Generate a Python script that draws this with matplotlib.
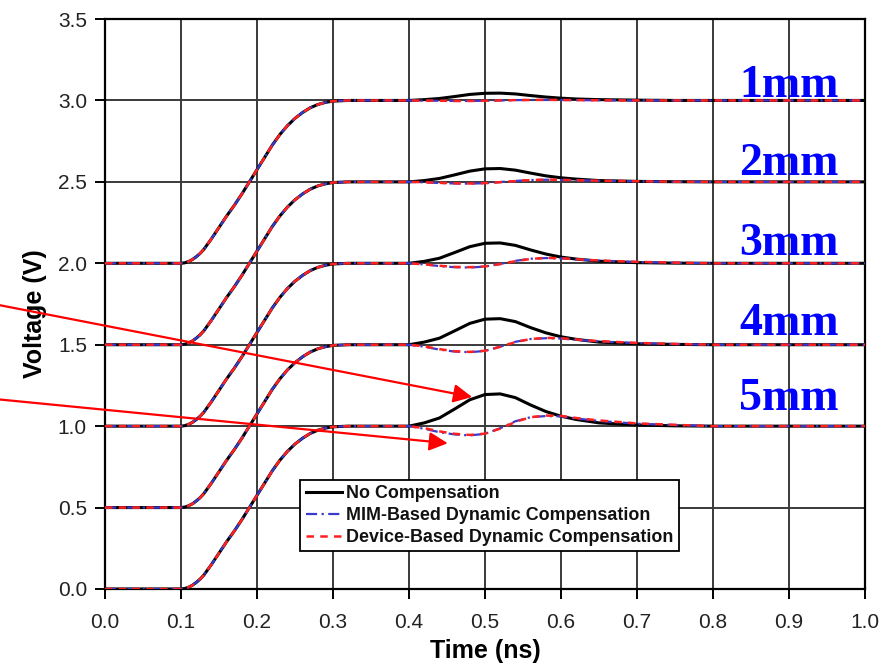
import numpy as np
import matplotlib
matplotlib.use("Agg")
import matplotlib.pyplot as plt

plt.rcParams['font.family'] = ['Liberation Sans', 'DejaVu Sans']

# ---- data ----
lengths = ["1mm", "2mm", "3mm", "4mm", "5mm"]
offsets = [2.0, 1.5, 1.0, 0.5, 0.0]          # starting voltage of each trace
label_y = [3.02, 2.54, 2.05, 1.56, 1.10]

# shared rising edge (fraction of 1 V swing)
t_rise = [0.0, 0.10, 0.105, 0.11, 0.115, 0.12, 0.125, 0.13, 0.14, 0.15, 0.16, 0.17, 0.18,
          0.19, 0.20, 0.21, 0.22, 0.23, 0.24, 0.25, 0.26, 0.27, 0.28, 0.29, 0.30, 0.32, 0.36]
v_rise = [0.0, 0.0, 0.003, 0.011, 0.023, 0.04, 0.06, 0.085, 0.15, 0.22, 0.29, 0.355, 0.425,
          0.5, 0.575, 0.65, 0.725, 0.79, 0.845, 0.89, 0.926, 0.955, 0.975, 0.988, 0.996, 1.0, 1.0]

# deviation from the 1 V plateau around the aggressor transition
t_bump = [0.40, 0.42, 0.44, 0.46, 0.48, 0.50, 0.52, 0.54, 0.56, 0.58, 0.60, 0.62,
          0.65, 0.70, 0.75, 0.80, 1.0]

no_comp = {
    "1mm": [0, 0.005, 0.012, 0.024, 0.037, 0.044, 0.045, 0.040, 0.030, 0.021, 0.014, 0.009, 0.005, 0.002, 0, 0, 0],
    "2mm": [0, 0.008, 0.021, 0.043, 0.066, 0.080, 0.082, 0.072, 0.054, 0.037, 0.025, 0.017, 0.008, 0.003, 0.001, 0, 0],
    "3mm": [0, 0.012, 0.031, 0.066, 0.102, 0.123, 0.125, 0.110, 0.082, 0.057, 0.038, 0.026, 0.013, 0.004, 0.001, 0, 0],
    "4mm": [0, 0.016, 0.040, 0.085, 0.131, 0.157, 0.160, 0.142, 0.105, 0.073, 0.049, 0.033, 0.016, 0.006, 0.002, 0, 0],
    "5mm": [0, 0.020, 0.050, 0.105, 0.162, 0.194, 0.198, 0.175, 0.130, 0.090, 0.061, 0.041, 0.020, 0.007, 0.002, 0, 0],
}
mim_comp = {
    "1mm": [0, -0.001, -0.002, -0.003, -0.003, -0.002, 0, 0.002, 0.003, 0.003, 0.003, 0.002, 0.001, 0, 0, 0, 0],
    "2mm": [0, -0.003, -0.007, -0.010, -0.011, -0.008, -0.001, 0.006, 0.011, 0.013, 0.012, 0.010, 0.007, 0.003, 0.001, 0, 0],
    "3mm": [0, -0.007, -0.017, -0.024, -0.026, -0.020, -0.004, 0.015, 0.028, 0.032, 0.030, 0.024, 0.016, 0.008, 0.003, 0, 0],
    "4mm": [0, -0.012, -0.030, -0.042, -0.046, -0.038, -0.012, 0.018, 0.035, 0.040, 0.038, 0.030, 0.020, 0.010, 0.004, 0, 0],
    "5mm": [0, -0.016, -0.037, -0.051, -0.057, -0.047, -0.013, 0.030, 0.055, 0.062, 0.060, 0.047, 0.032, 0.015, 0.007, 0, 0],
}
dev_comp = {
    "1mm": [0, -0.001, -0.002, -0.003, -0.003, -0.002, 0, 0.002, 0.003, 0.004, 0.003, 0.002, 0.001, 0, 0, 0, 0],
    "2mm": [0, -0.002, -0.006, -0.009, -0.010, -0.008, -0.002, 0.005, 0.011, 0.014, 0.013, 0.010, 0.007, 0.004, 0.001, 0, 0],
    "3mm": [0, -0.006, -0.015, -0.022, -0.024, -0.019, -0.005, 0.013, 0.027, 0.033, 0.031, 0.025, 0.017, 0.009, 0.004, 0, 0],
    "4mm": [0, -0.010, -0.027, -0.040, -0.044, -0.037, -0.013, 0.016, 0.035, 0.042, 0.040, 0.032, 0.022, 0.011, 0.005, 0, 0],
    "5mm": [0, -0.012, -0.032, -0.047, -0.054, -0.046, -0.015, 0.026, 0.055, 0.065, 0.063, 0.050, 0.035, 0.017, 0.008, 0, 0],
}

x_ticks = [0.0, 0.1, 0.2, 0.3, 0.4, 0.5, 0.6, 0.7, 0.8, 0.9, 1.0]
y_ticks = [0.0, 0.5, 1.0, 1.5, 2.0, 2.5, 3.0, 3.5]

# ---- figure ----
fig = plt.figure(figsize=(8.95, 6.7), dpi=100)
ax = fig.add_axes([0.1173, 0.1209, 0.8492, 0.8507])

t_all = np.array(t_rise + t_bump)

series = [
    (no_comp, dict(color='black', lw=2.2, ls='-'), "No Compensation"),
    (mim_comp, dict(color='#3a3acc', lw=1.6, ls=(0, (5, 2, 1, 2))), "MIM-Based Dynamic Compensation"),
    (dev_comp, dict(color='#ff2020', lw=1.8, ls=(0, (3, 2.5))), "Device-Based Dynamic Compensation"),
]
handles = []
for data, style, name in series:
    for i, L in enumerate(lengths):
        y = offsets[i] + np.array(v_rise + [1.0 + d for d in data[L]])
        ln, = ax.plot(t_all, y, zorder=3, **style)
    handles.append((ln, name))

ax.set_xlim(0, 1.0)
ax.set_ylim(0, 3.5)
ax.set_xticks(x_ticks)
ax.set_yticks(y_ticks)
ax.set_xticklabels([f"{v:.1f}" for v in x_ticks])
ax.set_yticklabels([f"{v:.1f}" for v in y_ticks])
ax.grid(True, color='#3a3a3a', lw=1.4, zorder=1)
ax.set_axisbelow(True)
for s in ax.spines.values():
    s.set_linewidth(1.6)
    s.set_color('black')
ax.tick_params(axis='both', direction='out', length=7, width=1.4, labelsize=15,
               colors='black', labelcolor='#222222')
ax.tick_params(axis='y', pad=6)
ax.tick_params(axis='x', pad=10)

ax.set_xlabel("Time (ns)", fontsize=18, fontweight='bold', labelpad=5)
ax.set_ylabel("Voltage (V)", fontsize=18, fontweight='bold', labelpad=8, y=0.483)

for L, yy in zip(lengths, label_y):
    ax.text(0.9, yy, L, color='#0000ff', fontsize=33, fontweight='bold',
            family=['Liberation Serif', 'DejaVu Serif'], ha='center', va='baseline', zorder=5)

leg = ax.legend([h for h, _ in handles], [n for _, n in handles],
                loc='upper left', bbox_to_anchor=(0.257, 0.192), fontsize=12.9,
                frameon=True, fancybox=False, framealpha=1, edgecolor='black',
                handlelength=2.0, handletextpad=0.25, labelspacing=0.28,
                borderpad=0.3, borderaxespad=0)
leg.get_frame().set_linewidth(1.3)
for txt in leg.get_texts():
    txt.set_fontweight('bold')
    txt.set_color('#111111')
leg.set_zorder(6)

# red pointer arrows
arrow_kw = dict(arrowstyle='-|>', color='#ff0000', lw=1.6, mutation_scale=28,
                shrinkA=0, shrinkB=0)
ax.annotate('', xy=(0.483, 1.179), xytext=(-0.01, 0.547), xycoords='data',
            textcoords='figure fraction', arrowprops=arrow_kw, annotation_clip=False, zorder=7)
ax.annotate('', xy=(0.451, 0.895), xytext=(-0.01, 0.405), xycoords='data',
            textcoords='figure fraction', arrowprops=arrow_kw, annotation_clip=False, zorder=7)

fig.savefig("out.png", dpi=100)
